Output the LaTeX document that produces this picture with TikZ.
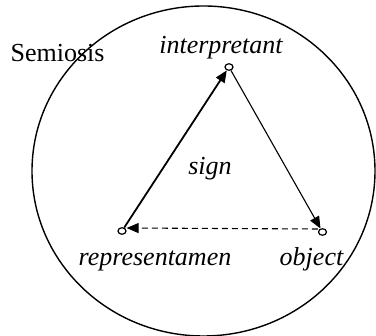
\documentclass[tikz,border=0pt]{standalone}
\usepackage{fontspec}
\setmainfont{Liberation Serif}
\usetikzlibrary{shapes.geometric,arrows.meta}
\begin{document}
\begin{tikzpicture}[x=1pt,y=-1pt,
  txt/.style={anchor=base,inner sep=0pt,font=\fontsize{26}{30}\selectfont},
  itx/.style={txt,font=\fontsize{26}{30}\selectfont\itshape},
  dot/.style={ellipse,draw,line width=1.2pt,minimum width=8pt,minimum height=6.5pt,inner sep=0pt,fill=white},
  tip/.style={-{Triangle[length=12pt,width=10pt]}}
]
\useasboundingbox (0,0) rectangle (376,336);
\draw[line width=1.4pt] (203.5,171) ellipse [x radius=171.5, y radius=165];
\node[dot] (interp) at (229,67) {};
\node[dot] (rep) at (122,231) {};
\node[dot] (obj) at (322.5,232) {};
\node[txt] (semiosis) at (57.5,62) {Semiosis};
\node[itx] (interptxt) at (221,54) {interpretant};
\node[itx] (signtxt) at (210,175) {sign};
\node[itx] (reptxt) at (155,266) {representamen};
\node[itx] (objtxt) at (311.5,266) {object};
\draw[tip,line width=1.8pt] (rep) -- (interp);
\draw[tip,line width=1.1pt] (interp) -- (obj);
\draw[tip,line width=1.1pt,dash pattern=on 6pt off 4pt] ([yshift=3pt]obj.west) -- ([yshift=3pt]rep.east);
\end{tikzpicture}
\end{document}
